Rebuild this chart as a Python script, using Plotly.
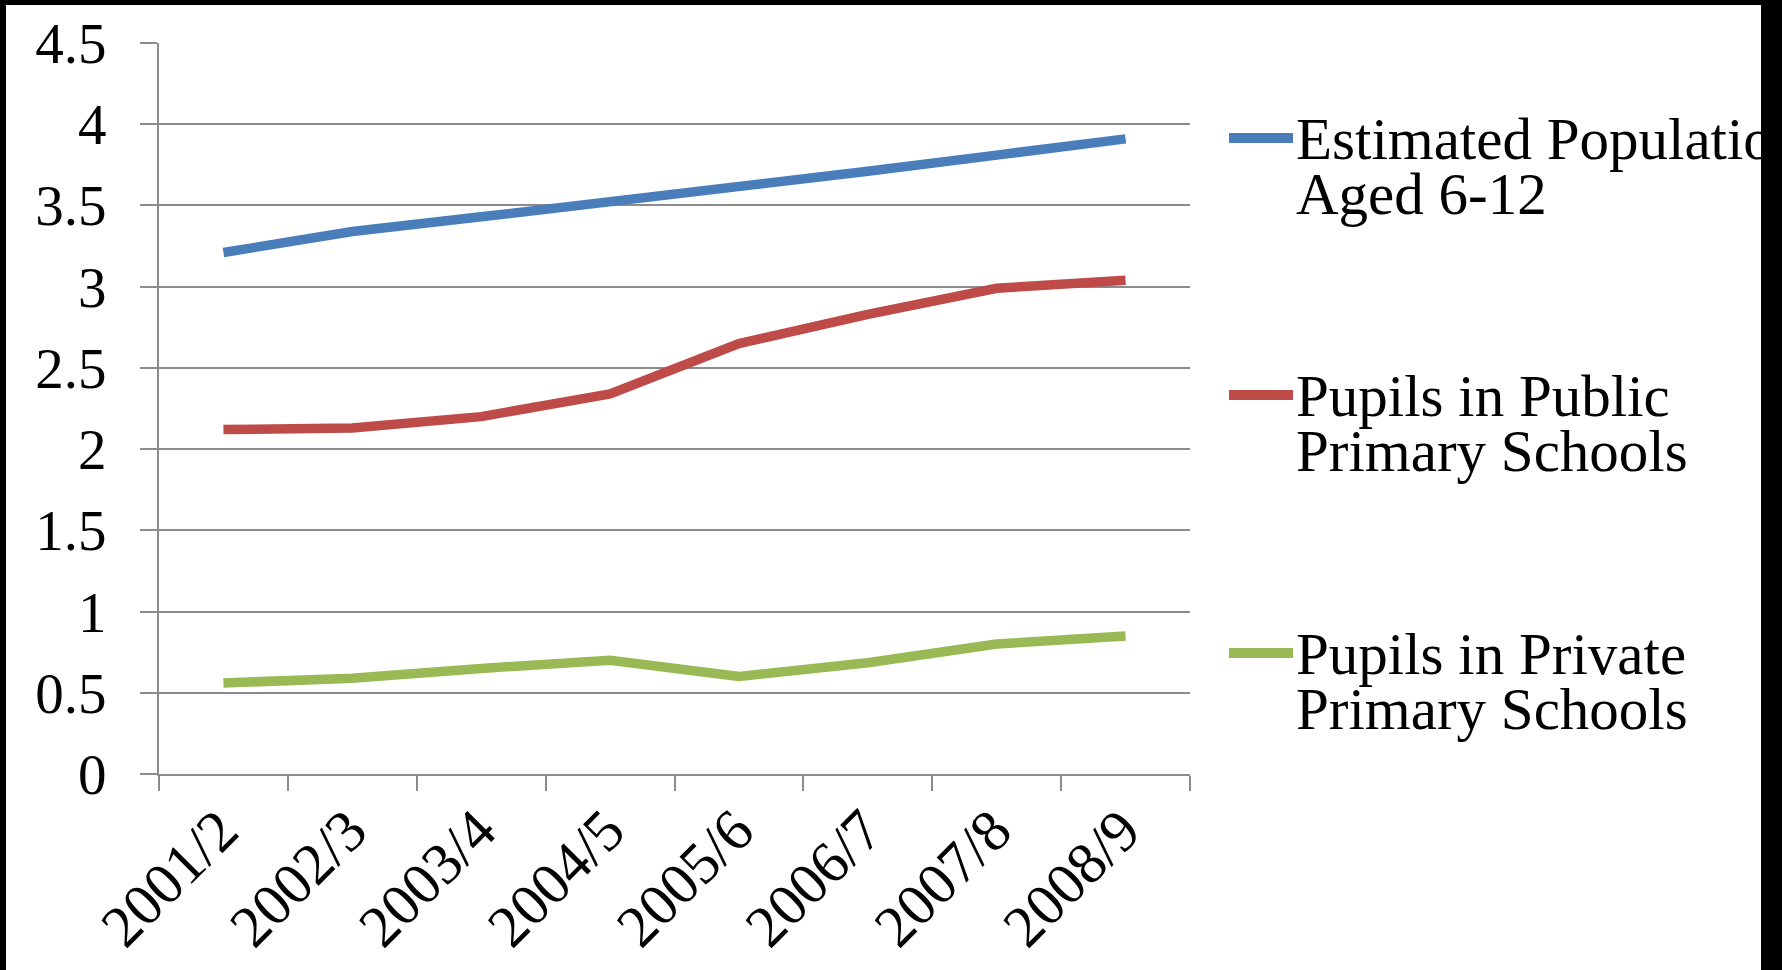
import plotly.graph_objects as go

# School-year categories
years = ["2001/2", "2002/3", "2003/4", "2004/5", "2005/6", "2006/7", "2007/8", "2008/9"]

# Series values (millions)
population_6_12 = [3.21, 3.34, 3.43, 3.52, 3.62, 3.71, 3.81, 3.91]
public_pupils = [2.12, 2.13, 2.20, 2.34, 2.65, 2.83, 2.99, 3.04]
private_pupils = [0.56, 0.59, 0.65, 0.70, 0.60, 0.685, 0.80, 0.85]

series_names = [
    "Estimated Population Aged 6-12",
    "Pupils in Public Primary Schools",
    "Pupils in Private Primary Schools",
]
# legend text broken over two lines
series_lines = [
    ["Estimated Population", "Aged 6-12"],
    ["Pupils in Public", "Primary Schools"],
    ["Pupils in Private", "Primary Schools"],
]
series_values = [population_6_12, public_pupils, private_pupils]
series_colors = ["#4A7EBB", "#BE4B48", "#98B954"]

W, H = 1782, 970
FONT = "Liberation Serif, Times New Roman, serif"
GRID = "#8C8C8C"

fig = go.Figure()

for name, vals, col in zip(series_names, series_values, series_colors):
    fig.add_trace(go.Scatter(
        x=years, y=vals, name=name, mode="lines",
        line=dict(color=col, width=9.5),
        showlegend=False, xaxis="x", yaxis="y",
    ))

# Legend panel: a pixel-unit subplot so long names are clipped at its right edge
leg_x0, leg_x1 = 1200, 1761
swatch_x = [1229, 1293]
text_x = 1296
entry_y = [138, 395, 653]
text_drop = 6
line_gap = 55

for lines, col, y0 in zip(series_lines, series_colors, entry_y):
    fig.add_trace(go.Scatter(
        x=swatch_x, y=[y0, y0], mode="lines",
        line=dict(color=col, width=10),
        showlegend=False, hoverinfo="skip", xaxis="x2", yaxis="y2",
    ))
    fig.add_trace(go.Scatter(
        x=[text_x] * len(lines),
        y=[y0 + text_drop + i * line_gap for i in range(len(lines))],
        text=lines, mode="text", textposition="middle right",
        textfont=dict(family=FONT, size=59, color="black"),
        cliponaxis=True, showlegend=False, hoverinfo="skip",
        xaxis="x2", yaxis="y2",
    ))

plot_l, plot_r = 159, 1190
plot_t, plot_b = 43, 774

fig.update_layout(
    width=W, height=H,
    margin=dict(l=0, r=0, t=0, b=0, pad=0, autoexpand=False),
    paper_bgcolor="white", plot_bgcolor="white",
    font=dict(family=FONT, color="black"),
    xaxis=dict(
        domain=[plot_l / W, plot_r / W], automargin=False,
        type="category", range=[-0.5, len(years) - 0.5],
        tickson="boundaries", ticks="outside", ticklen=15, tickwidth=2, tickcolor=GRID,
        showline=True, linecolor=GRID, linewidth=2,
        showgrid=False, zeroline=False,
        tickangle=-45, tickfont=dict(family=FONT, size=59, color="black"),
        ticklabelstandoff=-4, ticklabelshift=-3,
        fixedrange=True,
    ),
    yaxis=dict(
        domain=[(H - plot_b) / H, (H - plot_t) / H], automargin=False,
        range=[0, 4.5], dtick=0.5, tick0=0,
        ticks="outside", ticklen=17, tickwidth=2, tickcolor=GRID,
        showline=True, linecolor=GRID, linewidth=2,
        showgrid=True, gridcolor=GRID, gridwidth=2,
        zeroline=False,
        tickfont=dict(family=FONT, size=57, color="black"),
        ticklabelstandoff=22,
        fixedrange=True,
    ),
    xaxis2=dict(
        domain=[leg_x0 / W, leg_x1 / W], range=[leg_x0, leg_x1],
        visible=False, fixedrange=True, anchor="y2", automargin=False,
    ),
    yaxis2=dict(
        domain=[0, 1], range=[H, 0],
        visible=False, fixedrange=True, anchor="x2", automargin=False,
    ),
    shapes=[
        # dark frame around the chart
        dict(type="rect", xref="paper", yref="paper", x0=leg_x1 / W, x1=1, y0=0, y1=1,
             fillcolor="black", line=dict(width=0), layer="above"),
        dict(type="rect", xref="paper", yref="paper", x0=0, x1=1, y0=1 - 5 / H, y1=1,
             fillcolor="black", line=dict(width=0), layer="above"),
        dict(type="rect", xref="paper", yref="paper", x0=0, x1=6 / W, y0=0, y1=1,
             fillcolor="black", line=dict(width=0), layer="above"),
    ],
)

fig.write_html("out.html")
